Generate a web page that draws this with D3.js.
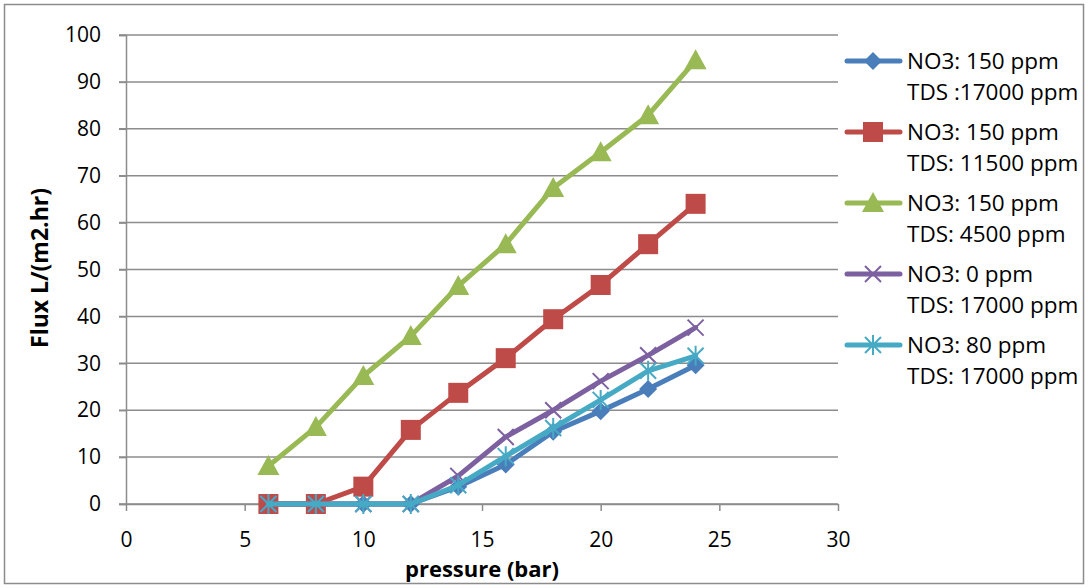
<!DOCTYPE html>
<html>
<head>
<meta charset="utf-8">
<script src="https://cdn.jsdelivr.net/npm/d3@7"></script>
<style>
  html, body { margin: 0; padding: 0; background: #fff; }
  svg { display: block; }
  text { font-family: "Open Sans", "Liberation Sans", Arial, sans-serif; fill: #000; }
</style>
</head>
<body>
<svg id="chart" width="1088" height="588"></svg>
<script>
// Pressure (bar) on the x axis
const pressure = [6, 8, 10, 12, 14, 16, 18, 20, 22, 24];

// Flux L/(m2.hr) for each feed solution
const fluxNo3150Tds17000 = [0, 0, 0, 0, 3.7, 8.4, 15.4, 19.8, 24.5, 29.6];
const fluxNo3150Tds11500 = [0, 0, 3.7, 15.8, 23.7, 31.1, 39.4, 46.7, 55.4, 64];
const fluxNo3150Tds4500  = [8.1, 16.4, 27.3, 35.8, 46.5, 55.4, 67.4, 75, 82.9, 94.6];
const fluxNo30Tds17000   = [0, 0, 0, 0, 6, 14.3, 20, 26.2, 31.7, 37.6];
const fluxNo380Tds17000  = [0, 0, 0, 0, 4, 10.2, 16.2, 22.2, 28.4, 31.6];

const seriesNames = [
  ["NO3: 150 ppm", "TDS :17000 ppm"],
  ["NO3: 150 ppm", "TDS: 11500 ppm"],
  ["NO3: 150 ppm", "TDS: 4500 ppm"],
  ["NO3: 0 ppm", "TDS: 17000 ppm"],
  ["NO3: 80 ppm", "TDS: 17000 ppm"]
];
const seriesColors = ["#4a7ebb", "#be4b48", "#98b954", "#7d60a0", "#46aac5"];
const seriesMarkers = ["diamond", "square", "triangle", "cross", "star"];

const xTicks = [0, 5, 10, 15, 20, 25, 30];
const yTicks = [0, 10, 20, 30, 40, 50, 60, 70, 80, 90, 100];

const series = [fluxNo3150Tds17000, fluxNo3150Tds11500, fluxNo3150Tds4500, fluxNo30Tds17000, fluxNo380Tds17000]
  .map((vals, i) => ({
    name: seriesNames[i],
    color: seriesColors[i],
    marker: seriesMarkers[i],
    points: pressure.map((p, j) => ({ x: p, y: vals[j] }))
  }));

const svg = d3.select("#chart");
const FONT = "Open Sans, Liberation Sans, Arial, sans-serif";

// outer chart frame
svg.append("rect")
  .attr("x", 4.5).attr("y", 4.5)
  .attr("width", 1079).attr("height", 579)
  .attr("fill", "#fff").attr("stroke", "#8c8c8c").attr("stroke-width", 1.5);

const plot = { left: 126, right: 838, top: 35, bottom: 504 };
const x = d3.scaleLinear().domain([0, 30]).range([plot.left, plot.right]);
const y = d3.scaleLinear().domain([0, 100]).range([plot.bottom, plot.top]);

// horizontal gridlines
svg.append("g")
  .selectAll("line")
  .data(yTicks)
  .join("line")
  .attr("x1", plot.left - 7).attr("x2", plot.right)
  .attr("y1", d => y(d)).attr("y2", d => y(d))
  .attr("stroke", "#8c8c8c").attr("stroke-width", 1.5);

// y axis
const yAxis = svg.append("g")
  .attr("transform", `translate(${plot.left},0)`)
  .call(d3.axisLeft(y).tickValues(yTicks).tickSize(7).tickPadding(18));
yAxis.select(".domain").attr("stroke", "#8c8c8c").attr("stroke-width", 1.5);
yAxis.selectAll(".tick line").attr("stroke", "#8c8c8c").attr("stroke-width", 1.5);
yAxis.selectAll("text").style("font-size", "21px").attr("font-family", FONT);

// x axis
const xAxis = svg.append("g")
  .attr("transform", `translate(0,${plot.bottom})`)
  .call(d3.axisBottom(x).tickValues(xTicks).tickSize(7).tickSizeOuter(0).tickPadding(21));
xAxis.select(".domain").attr("stroke", "#8c8c8c").attr("stroke-width", 1.5);
xAxis.selectAll(".tick line").attr("stroke", "#8c8c8c").attr("stroke-width", 1.5);
xAxis.selectAll("text").style("font-size", "21px").attr("font-family", FONT);

// axis titles
svg.append("text")
  .attr("x", (plot.left + plot.right) / 2).attr("y", 577)
  .attr("text-anchor", "middle")
  .style("font-size", "22px").style("font-weight", "bold")
  .text("pressure (bar)");
svg.append("text")
  .attr("transform", "translate(48,268) rotate(-90)")
  .attr("text-anchor", "middle")
  .style("font-size", "23px").style("font-weight", "bold")
  .text("Flux L/(m2.hr)");

// marker shapes drawn at (0,0)
function drawMarker(g, type, color) {
  if (type === "diamond") {
    g.append("path").attr("d", "M0,-9L9,0L0,9L-9,0Z").attr("fill", color);
  } else if (type === "square") {
    g.append("rect").attr("x", -10).attr("y", -10).attr("width", 20).attr("height", 20).attr("fill", color);
  } else if (type === "triangle") {
    g.append("path").attr("d", "M0,-11L11,9L-11,9Z").attr("fill", color);
  } else if (type === "cross") {
    g.append("path").attr("d", "M-8,-8L8,8M-8,8L8,-8").attr("stroke", color).attr("stroke-width", 2).attr("fill", "none");
  } else if (type === "star") {
    g.append("path").attr("d", "M-8,-8L8,8M-8,8L8,-8M0,-10L0,10").attr("stroke", color).attr("stroke-width", 2).attr("fill", "none");
  }
}

const line = d3.line().x(d => x(d.x)).y(d => y(d.y));

const seriesG = svg.append("g").selectAll("g.series")
  .data(series)
  .join("g")
  .attr("class", "series");

seriesG.each(function (s) {
  const g = d3.select(this);
  g.append("path")
    .attr("d", line(s.points))
    .attr("fill", "none")
    .attr("stroke", s.color)
    .attr("stroke-width", 5)
    .attr("stroke-linejoin", "round")
    .attr("stroke-linecap", "round");
  g.selectAll("g.marker")
    .data(s.points)
    .join("g")
    .attr("class", "marker")
    .attr("transform", d => `translate(${x(d.x)},${y(d.y)})`)
    .each(function () { drawMarker(d3.select(this), s.marker, s.color); });
});

// legend
const legend = svg.append("g").attr("transform", "translate(845,61)");
const legendItems = legend.selectAll("g")
  .data(series)
  .join("g")
  .attr("transform", (d, i) => `translate(0,${i * 71})`);
legendItems.append("line")
  .attr("x1", 2).attr("x2", 55).attr("y1", 0).attr("y2", 0)
  .attr("stroke", d => d.color).attr("stroke-width", 5).attr("stroke-linecap", "round");
legendItems.append("g")
  .attr("transform", "translate(28,0)")
  .each(function (d) { drawMarker(d3.select(this), d.marker, d.color); });
legendItems.append("text")
  .attr("x", 62).attr("y", 8)
  .style("font-size", "22.5px")
  .text(d => d.name[0]);
legendItems.append("text")
  .attr("x", 62).attr("y", 39)
  .style("font-size", "22.5px")
  .text(d => d.name[1]);
</script>
</body>
</html>
